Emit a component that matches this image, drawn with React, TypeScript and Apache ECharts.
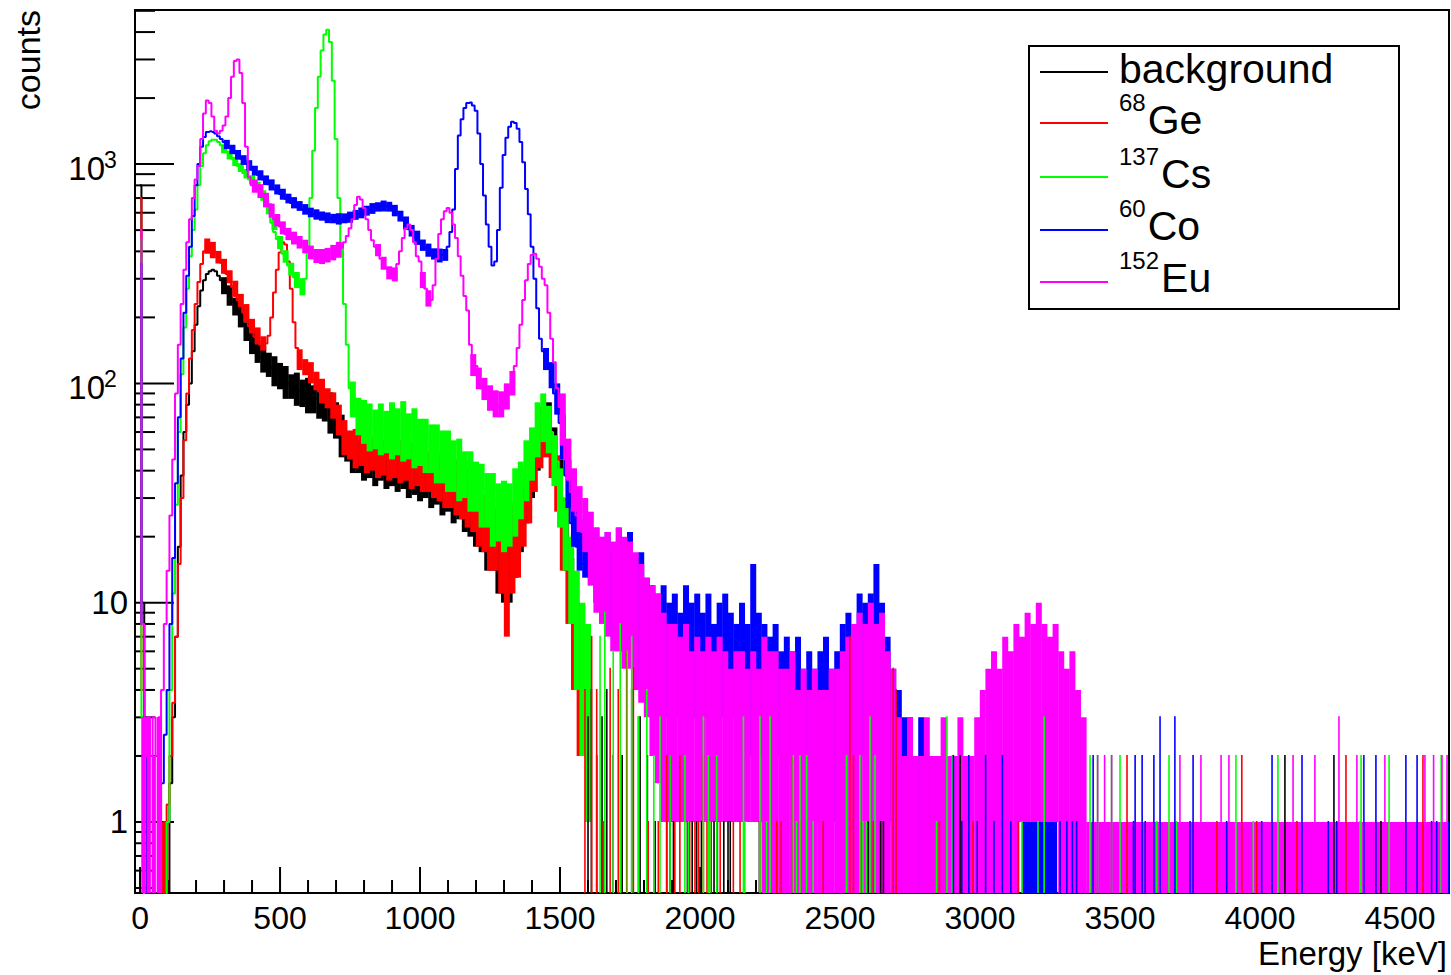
import React, { useEffect, useRef } from "react";
import * as echarts from "echarts";

// ---------- axis ranges ----------
const X_MIN = -18;
const X_MAX = 4675;
const Y_MIN = 0.4744;
const Y_MAX = 5043;

// ---------- histogram traces: 10 keV bins starting at 0 keV ----------
const TRACE_START_KEV = 0;
const TRACE_STEP_KEV = 10;

const bgTrace = [
  800, 10, 0, 0, 0, 0, 0, 0, 0, 0,
  0, 1.5, 3, 7, 18, 38, 60, 80, 100, 140,
  185, 225, 265, 295, 315, 325, 330, 325, 310, 295,
  280, 265, 250, 235, 222, 210, 198, 185, 172, 160,
  150, 143, 137, 132, 128, 125, 122, 118, 115, 112,
  108, 105, 102, 100, 98, 96, 94, 92, 91, 90,
  88, 87, 86, 85, 83, 82, 81, 80, 78, 75,
  71, 66, 61, 57, 54, 52, 50, 49, 48, 47,
  46, 45, 44, 44, 44, 43, 43, 43, 42, 42,
  42, 41, 41, 41, 40, 40, 40, 39, 39, 39,
  38, 38, 37, 37, 36, 36, 35, 35, 34, 34,
  33, 33, 32, 31, 31, 30, 29, 28, 27, 26,
  25, 24, 23, 22, 21, 20, 19, 18, 17, 16,
  15, 15, 15, 16, 18, 20, 23, 27, 31, 36,
  41, 46, 52, 57, 62, 64, 62, 57, 50, 42,
  34, 26, 20, 15, 11, 8, 6, 4.5, 3.5, 3,
  2.5,
];

const geTrace = [
  700, 4, 0, 0, 0, 0, 0, 0, 0, 1,
  1.2, 2, 3.5, 7, 15, 30, 55, 90, 130, 175,
  230, 290, 350, 400, 430, 425, 410, 395, 375, 355,
  335, 315, 295, 275, 255, 240, 225, 210, 195, 182,
  172, 163, 156, 150, 148, 152, 165, 200, 260, 330,
  395, 440, 430, 360, 270, 190, 145, 128, 120, 115,
  112, 108, 104, 98, 92, 88, 85, 82, 80, 77,
  73, 68, 62, 57, 54, 52, 51, 50, 50, 49,
  49, 48, 48, 48, 47, 47, 47, 46, 46, 46,
  46, 45, 45, 45, 45, 44, 44, 44, 44, 43,
  43, 43, 42, 42, 41, 41, 40, 40, 39, 39,
  38, 38, 37, 36, 35, 34, 33, 32, 31, 30,
  29, 28, 27, 26, 25, 24, 23, 22, 21, 20,
  19, 18, 18, 19, 20, 21, 23, 25, 28, 31,
  35, 40, 45, 50, 54, 56, 56, 52, 48, 42,
  36, 29, 22, 17, 13, 10, 8, 6, 5, 4,
  3.5,
];

const csTrace = [
  450, 3, 0, 0, 0, 0, 0, 0, 0, 0,
  1, 4, 11, 28, 60, 110, 180, 270, 380, 500,
  620, 800, 980, 1120, 1220, 1270, 1290, 1290, 1260, 1220,
  1180, 1140, 1100, 1060, 1020, 980, 950, 910, 880, 850,
  820, 790, 760, 730, 700, 660, 600, 540, 490, 455,
  420, 390, 365, 345, 325, 305, 290, 280, 275, 300,
  420, 700, 1150, 1800, 2500, 3300, 3900, 4100, 3600, 2400,
  1300, 700, 420, 230, 150, 95, 82, 75, 72, 70,
  68, 67, 66, 65, 64, 63, 63, 62, 62, 61,
  61, 60, 60, 60, 59, 59, 58, 57, 56, 56,
  55, 54, 53, 52, 51, 50, 49, 48, 47, 46,
  45, 44, 43, 42, 41, 40, 40, 39, 38, 37,
  36, 35, 34, 33, 32, 31, 30, 29, 28, 27,
  27, 27, 27, 28, 29, 31, 33, 36, 40, 45,
  50, 56, 62, 68, 72, 72, 68, 60, 52, 44,
  36, 30, 24, 19, 16, 12, 10, 8, 7, 6,
  5,
];

const coTrace = [
  350, 8, 2, 0, 0, 0, 0, 0, 1.5, 2.5,
  4, 8, 16, 35, 70, 130, 210, 310, 420, 580,
  800, 1000, 1200, 1330, 1400, 1410, 1400, 1380, 1340, 1300,
  1260, 1220, 1190, 1150, 1120, 1090, 1060, 1030, 1000, 970,
  945, 920, 895, 870, 850, 830, 810, 790, 770, 750,
  730, 712, 695, 680, 665, 652, 640, 630, 620, 610,
  600, 595, 590, 585, 580, 575, 570, 568, 565, 563,
  562, 562, 563, 565, 568, 572, 578, 585, 592, 600,
  607, 614, 620, 627, 633, 638, 641, 643, 643, 640,
  632, 620, 603, 580, 555, 530, 505, 483, 463, 448,
  435, 423, 413, 405, 398, 392, 388, 385, 385, 390,
  420, 490, 620, 950, 1350, 1600, 1800, 1900, 1910, 1850,
  1750, 1380, 1000, 720, 530, 420, 345, 360, 500, 780,
  1100, 1320, 1480, 1560, 1540, 1450, 1260, 1020, 770, 590,
  420, 300, 220, 160, 140, 130, 120, 105, 90, 78,
  66, 50, 38, 28, 23, 20, 18, 16, 15, 14,
  14,
];

const euTrace = [
  500, 8, 2, 3, 2, 3, 2, 3, 4, 8,
  14, 25, 45, 90, 150, 230, 330, 440, 560, 700,
  850, 980, 1300, 1700, 1950, 1900, 1650, 1420, 1380, 1420,
  1500, 1650, 2000, 2500, 2950, 3000, 2600, 1900, 1200, 870,
  800, 790, 770, 740, 720, 690, 640, 590, 560, 540,
  520, 500, 480, 470, 460, 450, 445, 440, 435, 420,
  400, 390, 385, 380, 378, 378, 380, 385, 390, 395,
  400, 405, 415, 440, 470, 510, 560, 650, 710, 690,
  630, 560, 500, 450, 420, 395, 370, 350, 335, 320,
  310, 315, 350, 400, 460, 510, 530, 500, 440, 380,
  360, 300, 270, 245, 240, 280, 370, 480, 560, 610,
  630, 600, 530, 460, 380, 310, 250, 215, 150, 125,
  120, 105, 95, 90, 86, 83, 80, 78, 78, 80,
  85, 88, 92, 97, 120, 145, 185, 240, 295, 350,
  385, 390, 370, 340, 300, 280, 210, 160, 125, 95,
  78, 55, 45, 38, 32, 28, 25, 23, 21, 19,
  18,
];

// ---------- bin-to-bin spread (noise bands): [E from, E to, low, high] ----------
const bgBand = [
  [290, 310, 255, 305], [310, 330, 226, 280], [330, 350, 204, 246], [350, 370, 180, 227],
  [370, 390, 156, 190], [390, 410, 136, 172], [410, 430, 124, 151], [430, 450, 112, 148],
  [450, 470, 107, 138], [470, 490, 97, 133], [490, 510, 94, 124], [510, 530, 85, 120],
  [530, 550, 85, 110], [550, 570, 79, 112], [570, 590, 78, 104], [590, 610, 73, 106],
  [610, 630, 73, 98], [630, 650, 69, 100], [650, 670, 67, 94], [670, 690, 59, 91],
  [690, 710, 56, 82], [710, 730, 46, 72], [730, 750, 44, 60], [750, 770, 39, 59],
  [770, 790, 39, 55], [790, 810, 36, 57], [810, 830, 37, 53], [830, 850, 34, 55],
  [850, 870, 36, 51], [870, 890, 33, 53], [890, 910, 34, 50], [910, 930, 32, 51],
  [930, 950, 33, 48], [950, 970, 30, 50], [970, 990, 31, 46], [990, 1010, 29, 48],
  [1010, 1030, 30, 45], [1030, 1050, 27, 46], [1050, 1070, 28, 43], [1070, 1090, 25, 44],
  [1090, 1110, 26, 41], [1110, 1130, 23, 41], [1130, 1150, 24, 37], [1150, 1170, 21, 38],
  [1170, 1190, 20, 33], [1190, 1210, 18, 33], [1210, 1230, 17, 29], [1230, 1250, 14, 29],
  [1250, 1270, 14, 25], [1270, 1290, 11, 24], [1290, 1310, 10, 20], [1310, 1330, 10, 22],
  [1330, 1350, 13, 24], [1350, 1370, 17, 30], [1370, 1390, 23, 36], [1390, 1410, 30, 49],
  [1410, 1430, 40, 60], [1430, 1450, 50, 78], [1450, 1470, 52, 82], [1470, 1490, 40, 63],
  [1490, 1510, 26, 45], [1510, 1530, 14, 28], [1530, 1550, 8, 16], [1550, 1570, 4, 10],
  [1570, 1590, 2, 6],
];

const geBand = [
  [75, 100, 0, 1],
  [230, 250, 390, 458], [250, 270, 372, 442], [270, 290, 352, 402], [290, 310, 316, 370],
  [310, 330, 286, 328], [330, 350, 248, 294], [350, 370, 223, 256], [370, 390, 190, 230],
  [390, 410, 169, 197], [410, 430, 151, 180], [430, 450, 141, 164],
  [560, 580, 115, 143], [580, 600, 109, 129], [600, 620, 100, 125], [620, 640, 93, 113],
  [640, 660, 81, 105], [660, 680, 77, 95], [680, 700, 69, 91], [700, 720, 58, 80],
  [720, 740, 47, 68], [740, 760, 45, 61], [760, 780, 41, 62], [780, 800, 42, 59],
  [800, 820, 39, 59], [820, 840, 40, 57], [840, 860, 37, 58], [860, 880, 38, 55],
  [880, 900, 36, 58], [900, 920, 37, 54], [920, 940, 35, 55], [940, 960, 36, 53],
  [960, 980, 33, 54], [980, 1000, 34, 51], [1000, 1020, 32, 52], [1020, 1040, 32, 49],
  [1040, 1060, 30, 50], [1060, 1080, 29, 48], [1080, 1100, 27, 49], [1100, 1120, 27, 45],
  [1120, 1140, 25, 45], [1140, 1160, 24, 41], [1160, 1180, 22, 41], [1180, 1200, 21, 36],
  [1200, 1220, 18, 36], [1220, 1240, 17, 31], [1240, 1260, 14, 31], [1260, 1280, 14, 27],
  [1280, 1300, 11, 27], [1300, 1320, 7, 23], [1320, 1340, 11, 28], [1340, 1360, 13, 29],
  [1360, 1380, 18, 37], [1380, 1400, 23, 43], [1400, 1420, 32, 55], [1420, 1440, 41, 62],
  [1440, 1460, 46, 65], [1460, 1480, 37, 58], [1480, 1500, 26, 47], [1500, 1520, 14, 30],
  [1520, 1540, 8, 18], [1540, 1560, 4, 11], [1560, 1580, 2, 7],
];

const csBand = [
  [290, 310, 1120, 1230], [310, 330, 1050, 1150], [330, 350, 980, 1080], [350, 370, 920, 1010],
  [370, 390, 860, 950], [390, 410, 810, 890], [410, 430, 750, 830], [430, 450, 680, 760],
  [450, 470, 590, 665], [470, 490, 500, 570], [490, 510, 410, 470], [510, 530, 355, 405],
  [530, 550, 310, 355], [550, 570, 272, 322], [570, 590, 252, 302],
  [750, 770, 70, 102], [770, 790, 58, 86], [790, 810, 53, 84], [810, 830, 49, 81],
  [830, 850, 50, 76], [850, 870, 47, 81], [870, 890, 48, 75], [890, 910, 45, 82],
  [910, 930, 47, 77], [930, 950, 44, 83], [950, 970, 45, 73], [970, 990, 41, 77],
  [990, 1010, 42, 69], [1010, 1030, 39, 69], [1030, 1050, 39, 65], [1050, 1070, 35, 65],
  [1070, 1090, 35, 61], [1090, 1110, 32, 61], [1110, 1130, 32, 55], [1130, 1150, 29, 56],
  [1150, 1170, 30, 49], [1170, 1190, 26, 49], [1190, 1210, 26, 44], [1210, 1230, 22, 43],
  [1230, 1250, 22, 39], [1250, 1270, 18, 39], [1270, 1290, 19, 35], [1290, 1310, 17, 36],
  [1310, 1330, 18, 35], [1330, 1350, 20, 41], [1350, 1370, 24, 44], [1370, 1390, 29, 55],
  [1390, 1410, 36, 63], [1410, 1430, 46, 82], [1430, 1450, 54, 90], [1450, 1470, 48, 79],
  [1470, 1490, 34, 58], [1490, 1510, 22, 41], [1510, 1530, 14, 29], [1530, 1550, 8, 20],
  [1550, 1570, 4, 14], [1570, 1590, 2, 10], [1590, 1610, 1, 8],
];

const coBand = [
  [300, 320, 1170, 1290], [320, 340, 1110, 1225], [340, 360, 1048, 1160], [360, 380, 992, 1098],
  [380, 400, 933, 1042], [400, 420, 887, 983], [420, 440, 843, 937], [440, 460, 802, 888],
  [460, 480, 758, 852], [480, 500, 727, 808], [500, 520, 688, 772], [520, 540, 662, 733],
  [540, 560, 628, 707], [560, 580, 612, 678], [580, 600, 588, 657], [600, 620, 572, 633],
  [620, 640, 558, 622], [640, 660, 552, 608], [660, 680, 538, 602], [680, 700, 537, 593],
  [700, 720, 530, 597], [720, 740, 537, 596], [740, 760, 540, 607], [760, 780, 557, 618],
  [780, 800, 566, 634], [800, 820, 582, 646], [820, 840, 593, 664], [840, 860, 607, 670],
  [860, 880, 608, 682], [880, 900, 607, 673], [900, 920, 578, 652], [920, 940, 547, 613],
  [940, 960, 503, 577], [960, 980, 467, 528], [980, 1000, 428, 497], [1000, 1020, 402, 453],
  [1020, 1040, 378, 434], [1040, 1060, 367, 413], [1060, 1080, 356, 412], [1080, 1100, 362, 410],
  [1440, 1460, 115, 145], [1460, 1480, 95, 125], [1480, 1500, 72, 100], [1500, 1520, 45, 72],
  [1520, 1540, 27, 45], [1540, 1560, 18, 28], [1560, 1580, 14, 24], [1580, 1600, 13, 22],
  [1600, 1620, 12, 20], [1620, 1640, 10, 22], [1640, 1660, 9, 18], [1660, 1680, 8, 21],
  [1680, 1700, 7, 17], [1700, 1720, 7, 22], [1720, 1740, 6, 19], [1740, 1760, 6, 21],
  [1760, 1780, 5, 16], [1780, 1800, 4, 17], [1800, 1820, 4, 13], [1820, 1840, 3, 12],
  [1840, 1860, 3, 11], [1860, 1880, 3, 12], [1880, 1900, 3, 10], [1900, 1920, 3, 11],
  [1920, 1940, 3, 9], [1940, 1960, 3, 12], [1960, 1980, 3, 10], [1980, 2000, 3, 11],
  [2000, 2020, 3, 9], [2020, 2040, 3, 11], [2040, 2060, 3, 8], [2060, 2080, 3, 10],
  [2080, 2100, 3, 11], [2100, 2120, 3, 9], [2120, 2140, 3, 8], [2140, 2160, 2, 10],
  [2160, 2180, 2, 8], [2180, 2200, 2, 15], [2200, 2220, 2, 9], [2220, 2240, 2, 8],
  [2240, 2260, 2, 7], [2260, 2280, 2, 8], [2280, 2300, 2, 6], [2300, 2320, 2, 7],
  [2320, 2340, 2, 6], [2340, 2360, 1, 7], [2360, 2380, 1, 5], [2380, 2400, 1, 6],
  [2400, 2420, 1, 5], [2420, 2440, 1, 6], [2440, 2460, 1, 7], [2460, 2480, 1, 5],
  [2480, 2500, 1, 6], [2500, 2520, 2, 8], [2520, 2540, 2, 9], [2540, 2560, 2, 8],
  [2560, 2580, 2, 11], [2580, 2600, 2, 10], [2600, 2620, 2, 11], [2620, 2640, 2, 15],
  [2640, 2660, 2, 10], [2660, 2680, 1, 7], [2680, 2700, 1, 5], [2700, 2720, 0, 4],
  [2720, 2740, 0, 3], [2740, 2760, 0, 3], [2760, 2780, 0, 2], [2780, 2800, 0, 3],
  [2800, 2820, 0, 2], [2820, 2840, 0, 2], [2840, 2860, 0, 2], [2860, 2880, 0, 2],
  [2880, 2900, 0, 2], [3150, 3275, 0, 1],
];

const euBand = [
  [5, 20, 0, 3], [24, 38, 0, 3], [42, 56, 0, 2], [60, 78, 0, 3],
  [400, 420, 740, 850], [420, 440, 700, 810], [440, 460, 635, 740], [460, 480, 570, 660],
  [480, 500, 520, 592], [500, 520, 478, 548], [520, 540, 450, 512], [540, 560, 430, 492],
  [560, 580, 412, 470], [580, 600, 392, 452], [600, 620, 368, 425], [620, 640, 354, 410],
  [640, 660, 350, 410], [660, 680, 356, 415], [680, 700, 364, 428], [700, 720, 374, 442],
  [840, 860, 380, 432], [860, 880, 330, 378], [880, 900, 298, 342], [900, 920, 292, 338],
  [1000, 1020, 272, 322], [1020, 1040, 224, 266],
  [1180, 1200, 108, 136], [1200, 1220, 94, 118], [1220, 1240, 84, 106], [1240, 1260, 75, 98],
  [1260, 1280, 70, 93], [1280, 1300, 70, 92], [1300, 1320, 76, 100], [1320, 1340, 88, 114],
  [1500, 1520, 52, 90], [1520, 1540, 36, 56], [1540, 1560, 26, 41], [1560, 1580, 21, 34],
  [1580, 1600, 17, 30], [1600, 1620, 12, 26], [1620, 1640, 9, 22], [1640, 1660, 8, 20],
  [1660, 1680, 7, 21], [1680, 1700, 6, 19], [1700, 1720, 6, 22], [1720, 1740, 5, 20],
  [1740, 1760, 5, 19], [1760, 1780, 4, 17], [1780, 1800, 3.5, 15], [1800, 1820, 3, 13],
  [1820, 1840, 2, 12], [1840, 1860, 1.5, 11],
  [1860, 1880, 1, 9], [1880, 1900, 1, 8], [1900, 1920, 1, 8], [1920, 1940, 1, 7],
  [1940, 1960, 1, 8], [1960, 1980, 1, 6], [1980, 2000, 1, 7], [2000, 2020, 1, 6],
  [2020, 2040, 1, 7], [2040, 2060, 1, 6], [2060, 2080, 1, 7], [2080, 2100, 1, 6],
  [2100, 2120, 1, 5], [2120, 2140, 1, 6], [2140, 2160, 1, 6], [2160, 2180, 1, 5],
  [2180, 2200, 1, 6], [2200, 2220, 1, 5],
  [2220, 2240, 0, 7], [2240, 2260, 0, 6], [2260, 2280, 0, 6], [2280, 2300, 0, 5],
  [2300, 2320, 0, 5], [2320, 2340, 0, 6], [2340, 2360, 0, 4], [2360, 2380, 0, 5],
  [2380, 2400, 0, 4], [2400, 2420, 0, 5], [2420, 2440, 0, 4], [2440, 2460, 0, 4],
  [2460, 2480, 0, 5], [2480, 2500, 0, 5], [2500, 2520, 0, 6], [2520, 2540, 0, 7],
  [2540, 2560, 0, 8], [2560, 2580, 0, 9], [2580, 2600, 0, 8], [2600, 2620, 0, 10],
  [2620, 2640, 0, 8], [2640, 2660, 0, 9], [2660, 2680, 0, 6], [2680, 2700, 0, 5],
  [2700, 2720, 0, 3], [2720, 2740, 0, 2], [2740, 2760, 0, 3], [2760, 2780, 0, 2],
  [2780, 2800, 0, 2], [2800, 2820, 0, 3], [2820, 2840, 0, 2], [2840, 2860, 0, 2],
  [2860, 2880, 0, 3], [2880, 2900, 0, 2], [2900, 2920, 0, 2], [2920, 2940, 0, 3],
  [2940, 2960, 0, 2], [2960, 2980, 0, 2], [2980, 3000, 0, 3], [3000, 3020, 0, 4],
  [3020, 3040, 0, 5], [3040, 3060, 0, 6], [3060, 3080, 0, 5], [3080, 3100, 0, 7],
  [3100, 3120, 0, 6], [3120, 3140, 0, 8], [3140, 3160, 1, 7], [3160, 3180, 1, 9],
  [3180, 3200, 1, 8], [3200, 3220, 1, 10], [3220, 3240, 1, 8], [3240, 3260, 1, 7],
  [3260, 3280, 1, 8], [3280, 3300, 0, 6], [3300, 3320, 0, 5], [3320, 3340, 0, 6],
  [3340, 3360, 0, 4], [3360, 3380, 0, 3], [3380, 4675, 0, 1],
];

// ---------- isolated tail bins: [E, counts] ----------
const bgSpikes = [
  [1600, 3], [1612, 4], [1631, 2], [1650, 3], [1667, 4], [1690, 2], [1722, 2], [1756, 4],
  [1786, 3], [1812, 2], [1840, 1], [1881, 1], [1893, 2], [1905, 1], [1955, 1], [1972, 1],
  [1988, 1], [2005, 1], [2050, 1], [2062, 1], [2085, 1], [2100, 1], [2108, 1], [2212, 1],
  [2600, 1], [2645, 1], [2655, 1], [2929, 2], [4089, 2], [4264, 2], [4432, 1],
];

const geSpikes = [
  [1589, 4], [1613, 7], [1631, 4], [1654, 1], [1679, 5], [1708, 4], [1738, 6], [1762, 5],
  [1780, 3], [1815, 1], [1851, 1], [1881, 2], [1910, 1], [1928, 2], [1963, 1], [1982, 1],
  [1995, 1], [2012, 2], [2025, 1], [2040, 1], [2060, 2], [2072, 1], [2119, 1], [2143, 1],
  [2214, 1], [2238, 1], [2274, 1], [2290, 1], [2333, 2], [2357, 1], [2381, 1], [2440, 1],
  [2535, 7], [2548, 2], [2571, 1], [2595, 1], [2619, 1], [2690, 5], [2700, 4], [2855, 1],
  [2975, 1], [3136, 1], [3525, 2], [3846, 1], [3935, 2], [3988, 1], [4132, 1], [4307, 2],
  [4582, 2],
];

const csSpikes = [
  [1643, 7], [1660, 9], [1690, 6], [1715, 8], [1740, 6], [1756, 7], [1780, 3], [1810, 4],
  [1835, 2], [1857, 3], [1893, 2], [1946, 2], [1958, 1], [2012, 3], [2030, 2], [2035, 1],
  [2060, 2], [2155, 3], [2160, 1], [2214, 3], [2238, 1], [2250, 3], [2333, 2], [2345, 1],
  [2357, 2], [2381, 2], [2404, 1], [2524, 2], [2571, 2], [2582, 1], [2594, 1], [2607, 3],
  [2625, 2], [2845, 1], [2882, 3], [2901, 2], [3150, 1], [3207, 1], [3229, 3], [3393, 2],
  [3420, 2], [3470, 2], [3500, 2], [3631, 1], [3675, 2], [3702, 1], [3914, 2], [3976, 1],
  [4064, 2], [4357, 1], [4361, 2], [4461, 2], [4647, 2],
];

const coSpikes = [
  [2905, 2], [2935, 1], [2960, 2], [2990, 1], [3020, 2], [3050, 1], [3080, 2], [3110, 1],
  [3286, 1], [3310, 1], [3330, 1], [3345, 1], [3404, 2], [3548, 1], [3554, 2], [3579, 2],
  [3590, 1], [3621, 2], [3643, 3], [3696, 3], [3750, 1], [3761, 2], [3881, 1], [4006, 1],
  [4043, 2], [4150, 2], [4244, 1], [4274, 1], [4371, 2], [4414, 2], [4521, 2], [4561, 2],
  [4613, 1], [4631, 1], [4673, 1],
];

const euSpikes = [
  [3420, 2], [3445, 2], [3470, 2], [3714, 2], [3789, 2], [3861, 2], [3889, 2], [4118, 2],
  [4196, 2], [4282, 3], [4346, 2], [4446, 2], [4589, 2], [4620, 2], [4650, 2], [4668, 2],
];

// ---------- ticks & labels ----------
const xMajorTicks = [0, 500, 1000, 1500, 2000, 2500, 3000, 3500, 4000, 4500];
const xMinorTicks = [
  100, 200, 300, 400, 600, 700, 800, 900, 1100, 1200, 1300, 1400, 1600, 1700, 1800, 1900,
  2100, 2200, 2300, 2400, 2600, 2700, 2800, 2900, 3100, 3200, 3300, 3400, 3600, 3700, 3800,
  3900, 4100, 4200, 4300, 4400, 4600,
];
const yMajorTicks = [1, 10, 100, 1000];
const yLabelBase = ["1", "10", "10", "10"];
const yLabelSup = ["", "", "2", "3"];
const yMinorTicks = [
  0.5, 0.6, 0.7, 0.8, 0.9, 2, 3, 4, 5, 6, 7, 8, 9, 20, 30, 40, 50, 60, 70, 80, 90,
  200, 300, 400, 500, 600, 700, 800, 900, 2000, 3000, 4000, 5000,
];

const seriesNames = ["background", "68Ge", "137Cs", "60Co", "152Eu"];
const legendBase = ["background", "Ge", "Cs", "Co", "Eu"];
const legendSup = ["", "68", "137", "60", "152"];
const seriesColors = ["#000000", "#ff0000", "#00ff00", "#0000ff", "#ff00ff"];

const FONT = '"Liberation Sans", Arial, Helvetica, sans-serif';

export default function App() {
  const ref = useRef<HTMLDivElement>(null);

  useEffect(() => {
    if (!ref.current) return;
    const chart = echarts.init(ref.current, undefined, { renderer: "svg" });
    const ZERO = Y_MIN / 4;
    const cy = (v: number) => (v > 0 ? v : ZERO);

    const traces = [bgTrace, geTrace, csTrace, coTrace, euTrace];
    const bands = [bgBand, geBand, csBand, coBand, euBand];
    const spikes = [bgSpikes, geSpikes, csSpikes, coSpikes, euSpikes];

    const bandSeries = (band: number[][], color: string, z: number) => ({
      type: "custom",
      silent: true,
      clip: true,
      z,
      data: band.map((b) => [b[0], b[1], cy(b[2]), cy(b[3])]),
      encode: { x: [0, 1], y: [2, 3] },
      renderItem: (_p: any, api: any) => {
        const e0 = api.value(0);
        const e1 = api.value(1);
        const hiRaw = api.value(3);
        if (hiRaw < Y_MIN) return null;
        const lo = Math.max(api.value(2), Y_MIN);
        const hi = Math.min(hiRaw, Y_MAX);
        const a = api.coord([e0, hi]);
        const b = api.coord([e1, lo]);
        let y = a[1];
        let h = b[1] - a[1];
        if (h < 2) {
          y -= (2 - h) / 2;
          h = 2;
        }
        return {
          type: "rect",
          shape: { x: a[0] - 0.2, y, width: Math.max(b[0] - a[0], 1) + 0.4, height: h },
          style: { fill: color },
        };
      },
    });

    const spikeSeries = (list: number[][], color: string, z: number) => ({
      type: "custom",
      silent: true,
      clip: true,
      z,
      data: list.map((s) => [s[0], cy(s[1])]),
      encode: { x: 0, y: 1 },
      renderItem: (_p: any, api: any) => {
        const e = api.value(0);
        const v = Math.min(api.value(1), Y_MAX);
        const top = api.coord([e, v]);
        const bot = api.coord([e, Y_MIN]);
        return {
          type: "rect",
          shape: { x: top[0] - 0.8, y: top[1] - 1, width: 1.6, height: bot[1] - top[1] + 1 },
          style: { fill: color },
        };
      },
    });

    const series: any[] = [];
    traces.forEach((tr, k) => {
      series.push({
        type: "line",
        name: seriesNames[k],
        step: "middle",
        symbol: "none",
        showSymbol: false,
        silent: true,
        clip: true,
        z: 10 + 2 * k,
        data: tr.map((v, i) => [TRACE_START_KEV + i * TRACE_STEP_KEV, cy(v)]),
        lineStyle: { color: seriesColors[k], width: 2 },
        itemStyle: { color: seriesColors[k] },
      });
      series.push(bandSeries(bands[k], seriesColors[k], 11 + 2 * k));
    });
    spikes.forEach((sp, k) => series.push(spikeSeries(sp, seriesColors[k], 30 + k)));

    chart.setOption({
      animation: false,
      backgroundColor: "#ffffff",
      grid: {
        left: 135,
        right: 2,
        top: 10,
        bottom: 82,
        show: true,
        borderColor: "#000000",
        borderWidth: 2,
        backgroundColor: "transparent",
      },
      xAxis: {
        type: "value",
        min: X_MIN,
        max: X_MAX,
        axisLine: { show: false },
        axisTick: { show: false },
        axisLabel: { show: false },
        splitLine: { show: false },
      },
      yAxis: {
        type: "log",
        logBase: 10,
        min: Y_MIN,
        max: Y_MAX,
        axisLine: { show: false },
        axisTick: { show: false },
        axisLabel: { show: false },
        splitLine: { show: false },
      },
      series,
    });

    const px = (e: number) => chart.convertToPixel({ xAxisIndex: 0 }, e) as unknown as number;
    const py = (v: number) => chart.convertToPixel({ yAxisIndex: 0 }, v) as unknown as number;
    const bottom = py(Y_MIN);
    const left = px(X_MIN);

    const els: any[] = [];
    const tickLine = (x1: number, y1: number, x2: number, y2: number) => ({
      type: "line",
      silent: true,
      z: 1,
      shape: { x1, y1, x2, y2 },
      style: { stroke: "#000000", lineWidth: 2 },
    });
    const txt = (
      text: string,
      x: number,
      y: number,
      size: number,
      align: string,
      vAlign: string,
      extra: any = {}
    ) => ({
      type: "text",
      silent: true,
      z: 1,
      x,
      y,
      ...extra,
      style: {
        text,
        fill: "#000000",
        fontSize: size,
        fontFamily: FONT,
        align,
        textAlign: align,
        verticalAlign: vAlign,
        textVerticalAlign: vAlign,
      },
    });

    xMajorTicks.forEach((e) => {
      const x = px(e);
      els.push(tickLine(x, bottom, x, bottom - 26));
      els.push(txt(String(e), x, 918, 32, "center", "middle"));
    });
    xMinorTicks.forEach((e) => {
      const x = px(e);
      els.push(tickLine(x, bottom, x, bottom - 13));
    });
    yMajorTicks.forEach((v, i) => {
      const y = py(v);
      els.push(tickLine(left, y, left + 39, y));
      if (yLabelSup[i]) {
        els.push(txt(yLabelBase[i], 105, y + 4, 33, "right", "middle"));
        els.push(txt(yLabelSup[i], 104, y - 4, 23, "left", "middle"));
      } else {
        els.push(txt(yLabelBase[i], 128, y, 33, "right", "middle"));
      }
    });
    yMinorTicks.forEach((v) => {
      const y = py(v);
      els.push(tickLine(left, y, left + 20, y));
    });

    els.push(txt("Energy [keV]", 1447, 953, 33, "right", "middle"));
    els.push(txt("counts", 28, 10, 34, "right", "middle", { rotation: Math.PI / 2 }));

    // legend box
    const legendEls: any[] = [
      {
        type: "rect",
        shape: { x: 1029, y: 46, width: 370, height: 263 },
        style: { fill: "#ffffff", stroke: "#000000", lineWidth: 2 },
      },
    ];
    const lineY = [72, 123, 177, 230, 282];
    const baseY = [83, 134, 188, 240, 292];
    legendBase.forEach((name, i) => {
      legendEls.push({
        type: "line",
        shape: { x1: 1040, y1: lineY[i], x2: 1108, y2: lineY[i] },
        style: { stroke: seriesColors[i], lineWidth: 2 },
      });
      const sup = legendSup[i];
      if (sup) {
        legendEls.push(txt(sup, 1119, baseY[i] - 23 - 8.3, 24, "left", "middle"));
        const supW = sup.length * 0.556 * 24;
        legendEls.push(txt(name, 1119 + supW + 2, baseY[i] - 14, 41, "left", "middle"));
      } else {
        legendEls.push(txt(name, 1119, baseY[i] - 14, 41, "left", "middle"));
      }
    });
    els.push({ type: "group", z: 100, silent: true, children: legendEls });

    chart.setOption({ graphic: { elements: els } });

    return () => {
      chart.dispose();
    };
  }, []);

  return (
    <div
      ref={ref}
      style={{ position: "fixed", left: 0, top: 0, width: 1451, height: 975, background: "#fff" }}
    />
  );
}
